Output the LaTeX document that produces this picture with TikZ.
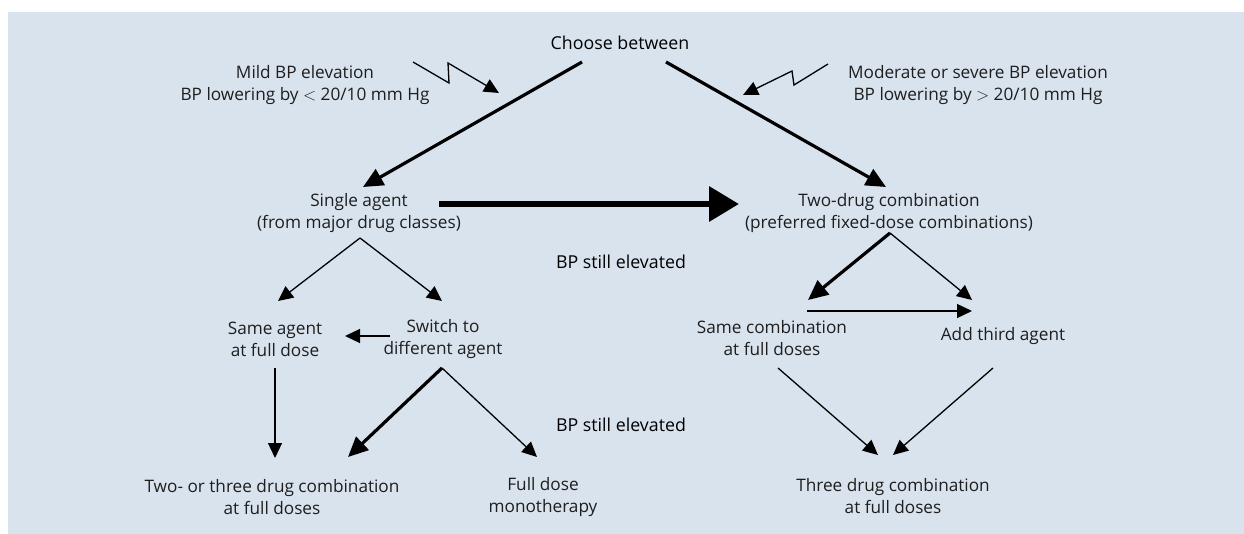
\documentclass[tikz,border=0pt]{standalone}
\usepackage{fontspec}
\setmainfont{Open Sans}
\usetikzlibrary{arrows.meta}
\definecolor{panelblue}{RGB}{217,227,238}
\definecolor{inktext}{RGB}{30,30,30}
\tikzset{
  lbl/.style={align=center, inner sep=0pt, text=inktext, font=\fontsize{17.2}{22}\selectfont},
  hint/.style={inner sep=0pt, text=black, font=\fontsize{17.8}{22}\selectfont},
  thinarr/.style={line width=1.3pt, -{Triangle[length=15pt,width=14pt]}},
  thickarr/.style={line width=3.2pt, -{Triangle[length=20pt,width=18pt]}},
  bigarr/.style={line width=6.5pt, -{Triangle[length=30pt,width=34pt]}}
}

\begin{document}
\begin{tikzpicture}[x=1pt,y=-1pt]
  \useasboundingbox (0,0) rectangle (1244,534);
  \fill[panelblue] (8,12) rectangle (1244,534);

  % Top row
  \node[hint] (choose) at (620,43) {Choose between};
  \node[lbl] (mild) at (305,85) {Mild BP elevation\\BP lowering by $<$ 20/10 mm Hg};
  \node[lbl] (severe) at (978,85) {Moderate or severe BP elevation\\BP lowering by $>$ 20/10 mm Hg};

  % Second row
  \node[lbl] (single) at (359,213) {Single agent\\(from major drug classes)};
  \node[lbl] (twodrug) at (889,213) {Two-drug combination\\(preferred fixed-dose combinations)};
  \node[hint] (still1) at (621,262) {BP still elevated};

  % Third row
  \node[lbl] (sameagent) at (275,339) {Same agent\\at full dose};
  \node[lbl] (switch) at (443,339) {Switch to\\different agent};
  \node[lbl] (samecomb) at (772,338) {Same combination\\at full doses};
  \node[lbl] (addthird) at (1003,336) {Add third agent};
  \node[hint] (still2) at (621,425) {BP still elevated};

  % Bottom row
  \node[lbl] (twothree) at (272,497) {Two- or three drug combination\\at full doses};
  \node[lbl] (fullmono) at (543,497) {Full dose\\monotherapy};
  \node[lbl] (threecomb) at (893,496) {Three drug combination\\at full doses};

  % Split points
  \coordinate (cl) at ([shift={(-38,19)}]choose.center);
  \coordinate (cr) at ([shift={(46,19)}]choose.center);
  \coordinate (sa) at ([shift={(1,25)}]single.center);
  \coordinate (sw) at ([shift={(-1,29)}]switch.center);
  \coordinate (td) at ([shift={(1,20)}]twodrug.center);

  % From the top
  \draw[thickarr] (cl) -- ([shift={(4,-26)}]single.center);
  \draw[thickarr] (cr) -- ([shift={(-3,-26)}]twodrug.center);
  \draw[thinarr] ([shift={(108,-23)}]mild.center) -- ++(36,21) -- ++(-1,-20) -- ([shift={(-121,50)}]choose.center);
  \draw[thinarr] ([shift={(-150,-21)}]severe.center) -- ++(-34,21) -- ++(-2,-14) -- ([shift={(123,52)}]choose.center);

  % Single agent or two drugs
  \draw[bigarr] ([shift={(80,-9)}]single.center) -- ([shift={(-150,-9)}]twodrug.center);
  \draw[thinarr] (sa) -- ([shift={(3,-38)}]sameagent.center);
  \draw[thinarr] (sa) -- ([shift={(-1,-38)}]switch.center);
  \draw[thinarr] ([shift={(-53,-3)}]switch.center) -- ([shift={(70,-3)}]sameagent.center);
  \draw[thinarr] ([shift={(0,29)}]sameagent.center) -- ([shift={(3,-39)}]twothree.center);
  \draw[thickarr] (sw) -- ([shift={(76,-40)}]twothree.center);
  \draw[thinarr] (sw) -- ([shift={(-6,-40)}]fullmono.center);

  % Two-drug branch
  \draw[thickarr] (td) -- ([shift={(36,-38)}]samecomb.center);
  \draw[thinarr] (td) -- ([shift={(-31,-36)}]addthird.center);
  \draw[thinarr] ([shift={(35,-27)}]samecomb.center) -- ([shift={(-31,-25)}]addthird.center);
  \draw[thinarr] ([shift={(6,30)}]samecomb.center) -- ([shift={(-15,-41)}]threecomb.center);
  \draw[thinarr] ([shift={(-10,32)}]addthird.center) -- ([shift={(0,-41)}]threecomb.center);
\end{tikzpicture}
\end{document}
